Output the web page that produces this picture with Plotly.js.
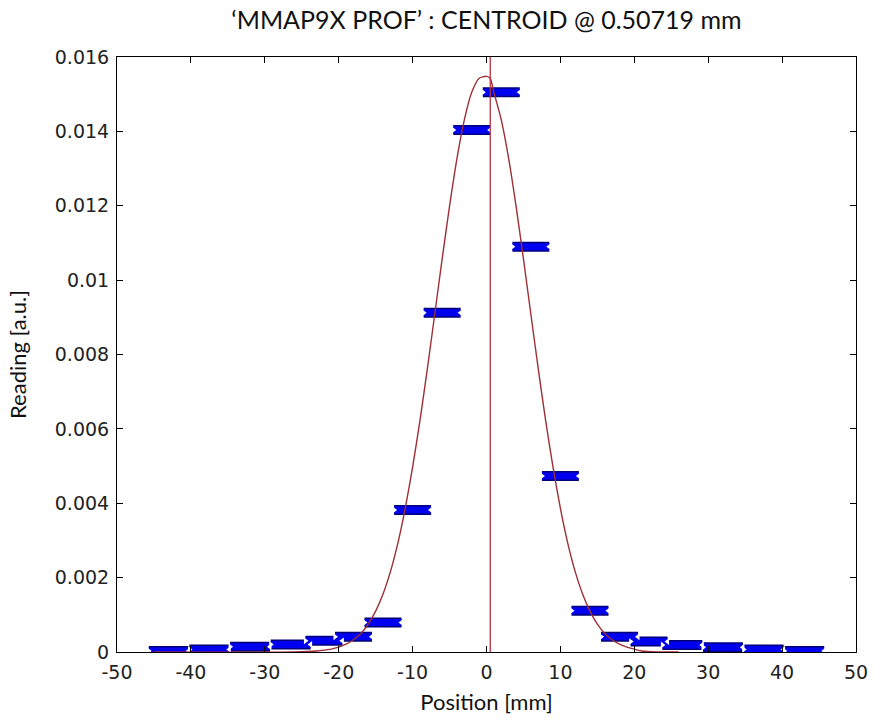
<!DOCTYPE html>
<html>
<head>
<meta charset="utf-8">
<script src="https://cdn.plot.ly/plotly-3.0.1.min.js"></script>
<style>html,body{margin:0;padding:0;background:#fff;}#chart{width:882px;height:724px;}</style>
</head>
<body>
<div id="chart"></div>
<script>
// Channel centres [mm], half-widths [mm], readings [a.u.]
var channelPos = [-43, -37.5, -32, -26.5, -22, -18, -14, -10, -6, -2, 2, 6, 10, 14, 18, 22, 26.5, 32, 37.5, 43];
var channelHalfWidth = [2.7, 2.7, 2.7, 2.7, 2.5, 2.5, 2.5, 2.5, 2.5, 2.5, 2.5, 2.5, 2.5, 2.5, 2.5, 2.5, 2.7, 2.7, 2.7, 2.7];
var reading = [0.00003, 0.00007, 0.00014, 0.0002, 0.0003, 0.00041, 0.00079, 0.00382, 0.00912, 0.01404,
               0.01505, 0.0109, 0.00473, 0.00111, 0.00041, 0.00028, 0.00019, 0.00013, 0.00007, 0.00003];

// Fitted profile curve
var fitX = [-45, -26, -23, -21, -20, -19, -18, -17, -16, -15, -14, -13, -12, -11, -10, -9, -8, -7, -6, -5, -4, -3, -2, -1, 0, 0.5,
            1, 2, 3, 4, 5, 6, 7, 8, 9, 10, 11, 12, 13, 14, 15, 16, 17, 18, 19, 20, 21, 23, 26, 45];
var fitY = [0, 0, 0.000026, 0.000078, 0.00013, 0.00021, 0.00033, 0.0005, 0.00075, 0.0011, 0.00156, 0.00216, 0.00292, 0.00386, 0.00497,
            0.00623, 0.00762, 0.00909, 0.01057, 0.01199, 0.01327, 0.01431, 0.01505, 0.01543, 0.01548,
            0.01543, 0.01505, 0.01431, 0.01327, 0.01199, 0.01057, 0.00909, 0.00762, 0.00623, 0.00497, 0.00386, 0.00292,
            0.00216, 0.00156, 0.0011, 0.00075, 0.0005, 0.00033, 0.00021, 0.00013, 0.000078, 0.000026, 0, 0];

var centroid = 0.50719;
var yRange = [0, 0.016];

var xTickVals = [-50, -40, -30, -20, -10, 0, 10, 20, 30, 40, 50];
var xTickText = ['-50', '-40', '-30', '-20', '-10', '0', '10', '20', '30', '40', '50'];
var yTickVals = [0, 0.002, 0.004, 0.006, 0.008, 0.01, 0.012, 0.014, 0.016];
var yTickText = ['0', '0.002', '0.004', '0.006', '0.008', '0.01', '0.012', '0.014', '0.016'];

var leftEnds = channelPos.map(function (c, i) { return c - channelHalfWidth[i]; });
var rightEnds = channelPos.map(function (c, i) { return c + channelHalfWidth[i]; });

var traces = [
  {
    x: channelPos, y: reading, type: 'scatter', mode: 'markers',
    marker: {size: 1, opacity: 0},
    error_x: {type: 'data', symmetric: true, array: channelHalfWidth, thickness: 10, width: 0, color: '#00007a'},
    hoverinfo: 'skip', showlegend: false
  },
  {
    x: channelPos, y: reading, type: 'scatter', mode: 'markers',
    marker: {size: 1, opacity: 0},
    error_x: {type: 'data', symmetric: true, array: channelHalfWidth, thickness: 7, width: 0, color: '#0000f0'},
    hoverinfo: 'skip', showlegend: false
  },
  {
    x: leftEnds, y: reading, type: 'scatter', mode: 'markers',
    marker: {symbol: 'triangle-right', size: 6, color: '#ffffff', line: {width: 0}},
    hoverinfo: 'skip', showlegend: false
  },
  {
    x: rightEnds, y: reading, type: 'scatter', mode: 'markers',
    marker: {symbol: 'triangle-left', size: 6, color: '#ffffff', line: {width: 0}},
    hoverinfo: 'skip', showlegend: false
  },
  {
    x: fitX, y: fitY, type: 'scatter', mode: 'lines',
    line: {color: '#9e2f36', width: 1.4, shape: 'spline', smoothing: 0.6},
    hoverinfo: 'skip', showlegend: false
  },
  {
    x: [centroid, centroid], y: yRange, type: 'scatter', mode: 'lines',
    line: {color: '#b8323c', width: 1.3},
    hoverinfo: 'skip', showlegend: false
  }
];

var axisFont = {family: 'DejaVu Sans, sans-serif', size: 19, color: '#222222'};
var titleFont = {family: 'Lato, sans-serif', size: 25, color: '#111111'};
var labelFont = {family: 'Lato, sans-serif', size: 22, color: '#111111'};

var layout = {
  width: 882, height: 724,
  paper_bgcolor: '#ffffff', plot_bgcolor: '#ffffff',
  margin: {l: 117, r: 26, t: 57, b: 72},
  showlegend: false,
  title: {
    text: '\u2018MMAP9X PROF\u2019 : CENTROID @ 0.50719 mm',
    font: titleFont, x: 0.5, xref: 'paper', xanchor: 'center',
    y: 0.972, yref: 'container', yanchor: 'middle'
  },
  xaxis: {
    range: [-50, 50], tickvals: xTickVals, ticktext: xTickText,
    ticks: 'inside', ticklen: 6, tickcolor: '#000', tickwidth: 1,
    showline: true, linecolor: '#000', linewidth: 1, mirror: 'ticks',
    showgrid: false, zeroline: false, tickfont: axisFont, ticklabelstandoff: 3,
    title: {text: 'Position [mm]', font: labelFont, standoff: 12}
  },
  yaxis: {
    range: yRange, tickvals: yTickVals, ticktext: yTickText,
    ticks: 'inside', ticklen: 6, tickcolor: '#000', tickwidth: 1,
    showline: true, linecolor: '#000', linewidth: 1, mirror: 'ticks',
    showgrid: false, zeroline: false, tickfont: axisFont, ticklabelstandoff: 3,
    title: {text: 'Reading [a.u.]', font: labelFont, standoff: 22}
  }
};

Plotly.newPlot('chart', traces, layout, {displayModeBar: false, staticPlot: true});
</script>
</body>
</html>
